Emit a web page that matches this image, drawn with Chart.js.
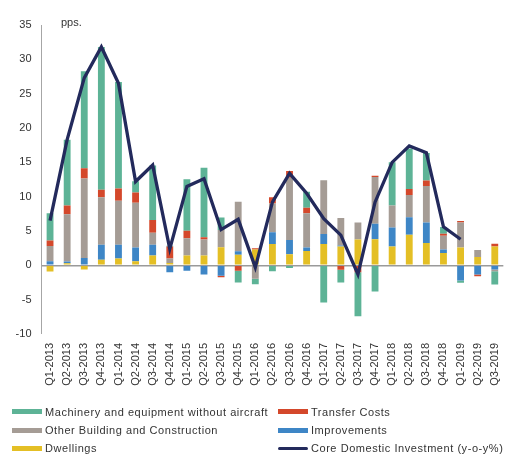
<!DOCTYPE html>
<html>
<head>
<meta charset="utf-8">
<script src="https://cdn.jsdelivr.net/npm/chart.js@4.4.1/dist/chart.umd.min.js"></script>
<style>
  html, body { margin: 0; padding: 0; background: #fff; overflow: hidden; width: 515px; height: 457px; }
  #wrap { position: relative; width: 517px; height: 457px; }
  #c { position: absolute; left: 0; top: 0; }
  .t { position: absolute; font-family: "Liberation Sans", Arial, sans-serif; font-size: 11px; line-height: 11px; color: #333; white-space: nowrap; }
  .lt { letter-spacing: 0.55px; }
  .sw { position: absolute; width: 30px; height: 5px; }
</style>
</head>
<body>
<div id="wrap">
  <canvas id="c" width="517" height="457"></canvas>
  <div class="t" style="left:61px; top:17px;">pps.</div>
  <div id="legend"></div>
</div>
<script>
const categories = ["Q1-2013","Q2-2013","Q3-2013","Q4-2013","Q1-2014","Q2-2014","Q3-2014","Q4-2014",
  "Q1-2015","Q2-2015","Q3-2015","Q4-2015","Q1-2016","Q2-2016","Q3-2016","Q4-2016",
  "Q1-2017","Q2-2017","Q3-2017","Q4-2017","Q1-2018","Q2-2018","Q3-2018","Q4-2018",
  "Q1-2019","Q2-2019","Q3-2019"];

const dwellings = [-0.9, 0.3, -0.6, 0.8, 1.0, 0.6, 1.45, 0.35, 1.45, 1.45, 2.65, 1.55, 2.3, 3.1, 1.6, 2.1,
  3.1, 2.75, 3.75, 3.8, 2.75, 4.45, 3.25, 1.8, 2.6, 1.2, 2.75];
const improvements = [0.6, 0.25, 1.05, 2.2, 2.0, 2.0, 1.55, -1.0, -0.8, -1.35, -1.5, 0.5, -0.1, 1.7, 2.1, 0.5,
  1.45, 0.15, 0, 2.25, 2.75, 2.55, 3.0, 0.5, -2.2, -1.35, -0.6];
const otherBuilding = [2.2, 6.9, 11.6, 6.9, 6.4, 6.5, 1.75, 0.65, 2.5, 2.3, 2.5, 7.2, -1.85, 4.2, 9.05, 5.0,
  7.85, 4.0, 2.5, 6.8, 3.2, 3.25, 5.3, 2.0, 3.65, 1.05, -0.25];
const transferCosts = [0.8, 1.25, 1.5, 1.1, 1.8, 1.5, 1.85, 1.75, 1.1, 0.35, -0.25, -0.8, 0.2, 0.9, 1.0, 0.8,
  0, -0.65, -1.0, 0.2, 0, 0.85, 0.8, 0.3, 0.2, -0.25, 0.4];
const machinery = [4.0, 9.6, 14.1, 20.8, 15.5, 1.65, 7.95, 0.1, 7.5, 10.1, 1.8, -1.7, -0.8, -0.85, -0.4, 2.3,
  -5.4, -1.85, -6.4, -3.8, 6.3, 5.9, 4.0, 1.0, -0.35, 0, -1.95];
const coreInvestment = [6.5, 18.3, 27.3, 31.8, 26.5, 12.2, 14.6, 2.4, 11.5, 12.6, 5.2, 6.7, -0.3, 9.2, 13.4, 10.5,
  6.8, 4.4, -1.3, 9.2, 15.0, 17.4, 16.4, 5.6, 3.8, null, null];
const yTicks = [35, 30, 25, 20, 15, 10, 5, 0, -5, -10];

const colors = {
  machinery: "#5DB396",
  transfer: "#D4482B",
  other: "#A59C95",
  improvements: "#3E86C6",
  dwellings: "#E4BF25",
  core: "#232A5C"
};

function bar(label, data, color) {
  return { type: "bar", label, data, backgroundColor: color, borderWidth: 0,
    barPercentage: 0.4, categoryPercentage: 1.0, stack: "s", order: 1 };
}

const ctx = document.getElementById("c").getContext("2d");
new Chart(ctx, {
  data: {
    labels: categories,
    datasets: [
      { type: "line", label: "Core Domestic Investment (y-o-y%)", data: coreInvestment,
        borderColor: colors.core, borderWidth: 3.3, pointRadius: 0, tension: 0, fill: false,
        order: 0, spanGaps: false, borderJoinStyle: "miter" },
      bar("Dwellings", dwellings, colors.dwellings),
      bar("Improvements", improvements, colors.improvements),
      bar("Other Building and Construction", otherBuilding, colors.other),
      bar("Transfer Costs", transferCosts, colors.transfer),
      bar("Machinery and equipment without aircraft", machinery, colors.machinery)
    ]
  },
  options: {
    responsive: false,
    animation: false,
    devicePixelRatio: 1,
    layout: { padding: { top: 25, bottom: 63, left: 0, right: 1 } },
    plugins: { legend: { display: false }, tooltip: { enabled: false } },
    scales: {
      x: {
        stacked: true,
        grid: { display: false, drawTicks: false },
        border: { display: false },
        ticks: { autoSkip: false, maxRotation: 90, minRotation: 90, padding: 9,
          color: "#333", font: { family: "Liberation Sans", size: 11 } },
        afterFit: (s) => { s.height = 60; }
      },
      y: {
        stacked: true,
        min: -10, max: 35,
        afterBuildTicks: (s) => { s.ticks = yTicks.map(v => ({ value: v })); },
        grid: {
          drawTicks: false,
          color: (c) => (c.tick && c.tick.value === 0) ? "#9a9a9a" : "rgba(0,0,0,0)",
          lineWidth: (c) => (c.tick && c.tick.value === 0) ? 1.5 : 0
        },
        border: { display: true, color: "#a6a6a6", width: 1 },
        ticks: { padding: 10, color: "#333", font: { family: "Liberation Sans", size: 11 } },
        afterFit: (s) => { s.width = 41.5; }
      }
    }
  }
});

// HTML legend (two columns, as in the reference)
const legendItems = [
  { label: "Machinery and equipment without aircraft", color: colors.machinery, col: 0, row: 0, line: false },
  { label: "Transfer Costs", color: colors.transfer, col: 1, row: 0, line: false },
  { label: "Other Building and Construction", color: colors.other, col: 0, row: 1, line: false },
  { label: "Improvements", color: colors.improvements, col: 1, row: 1, line: false },
  { label: "Dwellings", color: colors.dwellings, col: 0, row: 2, line: false },
  { label: "Core Domestic Investment (y-o-y%)", color: colors.core, col: 1, row: 2, line: true }
];
const lg = document.getElementById("legend");
const colX = [12, 278];
legendItems.forEach(it => {
  const rowY = 411.7 + it.row * 18.3;
  const sw = document.createElement("div");
  sw.className = "sw";
  sw.style.left = colX[it.col] + "px";
  sw.style.background = it.color;
  if (it.line) { sw.style.height = "3px"; sw.style.top = (rowY - 1.5) + "px"; sw.style.borderRadius = "1.5px"; }
  else { sw.style.top = (rowY - 2.5) + "px"; }
  lg.appendChild(sw);
  const t = document.createElement("div");
  t.className = "t lt";
  t.style.left = (colX[it.col] + 33) + "px";
  t.style.top = (rowY - 5) + "px";
  t.textContent = it.label;
  lg.appendChild(t);
});
</script>
</body>
</html>
